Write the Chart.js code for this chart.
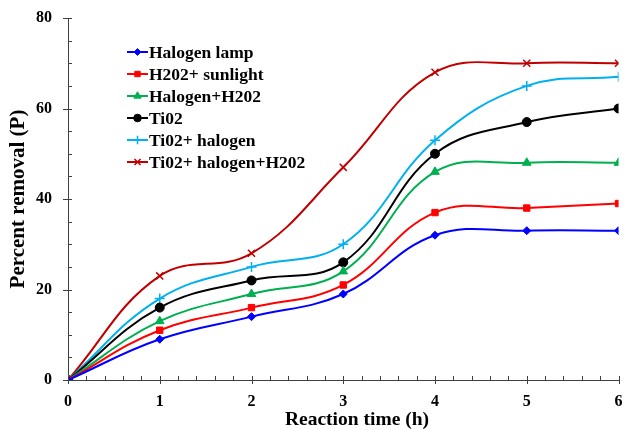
<!DOCTYPE html>
<html>
<head>
<meta charset="utf-8">
<script src="https://cdn.jsdelivr.net/npm/chart.js@4.4.1/dist/chart.umd.min.js"></script>
<style>
    html, body { margin: 0; padding: 0; background: #fff; }
    #wrap { width: 625px; height: 430px; }
</style>
</head>
<body>
<div id="wrap"><canvas id="chart"></canvas></div>
<script>
// Время реакции (ч) и процент удаления для каждой серии
const hours = [0, 1, 2, 3, 4, 5, 6];
const halogenLamp = [0, 9, 14, 19, 32, 33, 33];
const h2o2Sunlight = [0, 11, 16, 21, 37, 38, 39];
const halogenH2o2 = [0, 13, 19, 24, 46, 48, 48];
const tio2 = [0, 16, 22, 26, 50, 57, 60];
const tio2Halogen = [0, 18, 25, 30, 53, 65, 67];
const tio2HalogenH2o2 = [0, 23, 28, 47, 68, 70, 70];
const seriesNames = ["Halogen lamp", "H202+ sunlight", "Halogen+H202", "Ti02", "Ti02+ halogen", "Ti02+ halogen+H202"];
const yTicks = [0, 20, 40, 60, 80];
const xTicks = [0, 1, 2, 3, 4, 5, 6];
const xTitle = 'Reaction time (h)';
const yTitle = 'Percent removal (P)';

const FONT = "'Liberation Serif', 'Times New Roman', serif";

const styles = [
    { color: '#0000FF', point: 'rectRot', r: 4 },
    { color: '#FF0000', point: 'rect', r: 4.5 },
    { color: '#00B050', point: 'triangle', r: 5 },
    { color: '#000000', point: 'circle', r: 4.5 },
    { color: '#00B0F0', point: 'cross', r: 5 },
    { color: '#C00000', point: 'crossRot', r: 5 }
];

const allValues = [halogenLamp, h2o2Sunlight, halogenH2o2, tio2, tio2Halogen, tio2HalogenH2o2];

const datasets = allValues.map((vals, i) => ({
    label: seriesNames[i],
    data: hours.map((h, k) => ({ x: h, y: vals[k] })),
    borderColor: styles[i].color,
    backgroundColor: styles[i].color,
    borderWidth: 2,
    pointStyle: styles[i].point,
    pointRadius: styles[i].r,
    pointBorderWidth: (styles[i].point === 'cross' || styles[i].point === 'crossRot') ? 1.5 : 1,
    tension: 0.4,
    fill: false
}));

// Деления осей (крупные через ось, мелкие внутрь), подпись оси X и легенда
const axisExtras = {
    id: 'axisExtras',
    afterDraw(chart) {
        const ctx = chart.ctx;
        const x = chart.scales.x, y = chart.scales.y;
        const area = chart.chartArea;
        ctx.save();
        ctx.strokeStyle = '#404040';
        ctx.lineWidth = 1;
        ctx.beginPath();
        // ось Y: мелкие каждые 5, крупные каждые 20
        for (let v = 0; v <= 80; v += 5) {
            const py = Math.round(y.getPixelForValue(v)) + 0.5;
            const major = v % 20 === 0;
            ctx.moveTo(area.left - (major ? 5 : 0), py);
            ctx.lineTo(area.left + 4, py);
        }
        // ось X: мелкие каждые 0.2, крупные на целых
        for (let k = 0; k <= 30; k++) {
            const px = Math.round(x.getPixelForValue(k * 0.2)) + 0.5;
            const major = k % 5 === 0;
            ctx.moveTo(px, area.bottom + (major ? 4 : 0));
            ctx.lineTo(px, area.bottom - 4);
        }
        ctx.stroke();

        // подпись оси X (чуть правее центра)
        ctx.fillStyle = '#000';
        ctx.font = 'bold 19.5px ' + FONT;
        ctx.textAlign = 'center';
        ctx.textBaseline = 'middle';
        ctx.fillText(xTitle, 357, 420);

        // легенда
        const lx = 127, ly = 52, step = 22;
        ctx.font = 'bold 17.5px ' + FONT;
        ctx.textAlign = 'left';
        datasets.forEach((ds, i) => {
            const cy = ly + i * step;
            ctx.strokeStyle = ds.borderColor;
            ctx.lineWidth = 2;
            ctx.beginPath();
            ctx.moveTo(lx, cy);
            ctx.lineTo(lx + 21, cy);
            ctx.stroke();
            ctx.fillStyle = ds.backgroundColor;
            ctx.lineWidth = ds.pointBorderWidth;
            Chart.helpers.drawPoint(ctx, { pointStyle: ds.pointStyle, radius: ds.pointRadius * 0.85, borderWidth: ds.pointBorderWidth }, lx + 10.5, cy);
            ctx.fillStyle = '#000';
            ctx.fillText(ds.label, lx + 22, cy + 1);
        });
        ctx.restore();
    }
};

new Chart(document.getElementById('chart'), {
    type: 'line',
    data: { datasets },
    options: {
        responsive: true,
        maintainAspectRatio: false,
        animation: false,
        layout: { padding: { top: 18, right: 5, left: 0, bottom: 0 } },
        plugins: {
            legend: { display: false },
            tooltip: { enabled: false }
        },
        scales: {
            x: {
                type: 'linear',
                min: 0,
                max: 6,
                afterBuildTicks: s => { s.ticks = xTicks.map(v => ({ value: v })); },
                afterFit: s => { s.height = 50; },
                grid: { drawOnChartArea: false, tickLength: 10, color: 'rgba(0,0,0,0)' },
                border: { color: '#404040', width: 1 },
                ticks: { color: '#000', font: { family: FONT, size: 16, weight: 'bold' }, padding: 2, maxRotation: 0 }
            },
            y: {
                min: 0,
                max: 80,
                afterBuildTicks: s => { s.ticks = yTicks.map(v => ({ value: v })); },
                afterFit: s => { s.width = 68; },
                grid: { drawOnChartArea: false, tickLength: 14, color: 'rgba(0,0,0,0)' },
                border: { color: '#404040', width: 1 },
                ticks: { color: '#000', font: { family: FONT, size: 16, weight: 'bold' }, padding: 2 },
                title: { display: true, text: yTitle, color: '#000', font: { family: FONT, size: 21, weight: 'bold' }, padding: { top: 6, bottom: 4 } }
            }
        }
    },
    plugins: [axisExtras]
});
</script>
</body>
</html>
